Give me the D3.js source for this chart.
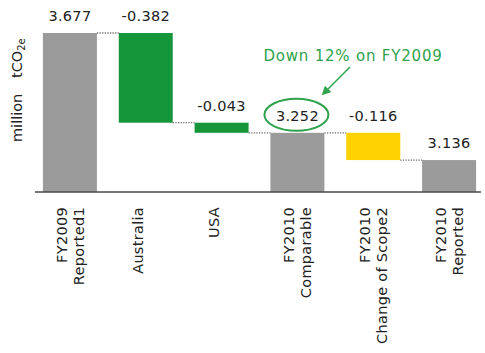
<!DOCTYPE html>
<html lang="en">
<head>
<meta charset="UTF-8">
<title>Waterfall</title>
<script src="https://cdn.jsdelivr.net/npm/d3@7"></script>
<style>
  body { margin: 0; background: #fff; }
  svg text { font-family: "DejaVu Sans", sans-serif; }
</style>
</head>
<body>
<div id="chart"></div>
<script>
// chart data
const categories = ["FY2009|Reported1", "Australia", "USA", "FY2010|Comparable", "FY2010|Change of Scope2", "FY2010|Reported"];
const values = [3.677, -0.382, -0.043, 3.252, -0.116, 3.136];
const kinds = ["total", "delta", "delta", "total", "delta", "total"];
const barColors = ["#9b9b9b", "#16963a", "#16963a", "#9b9b9b", "#ffd200", "#9b9b9b"];
const valueLabels = ["3.677", "-0.382", "-0.043", "3.252", "-0.116", "3.136"];
const yDomain = [3.0, 3.677];

const width = 485, height = 353;
const svg = d3.select("#chart").append("svg")
    .attr("width", width)
    .attr("height", height);

const x = d3.scaleBand().domain(categories).range([32, 487])
    .paddingInner(0.288).paddingOuter(0.144);
const y = d3.scaleLinear().domain(yDomain).range([192, 33]);

// running totals for the waterfall
let run = 0;
const bars = values.map(function(v, i) {
    let lo, hi, end;
    if (kinds[i] === "total") { lo = yDomain[0]; hi = v; end = v; }
    else { end = run + v; lo = Math.min(run, end); hi = Math.max(run, end); }
    run = end;
    return {cat: categories[i], lo: lo, hi: hi, end: end, color: barColors[i], label: valueLabels[i]};
});

// dotted connectors
svg.selectAll("line.conn")
    .data(bars.slice(0, -1))
    .join("line")
    .attr("class", "conn")
    .attr("x1", (d) => x(d.cat) + x.bandwidth())
    .attr("x2", (d, i) => x(categories[i + 1]))
    .attr("y1", (d) => y(d.end))
    .attr("y2", (d) => y(d.end))
    .attr("stroke", "#6f6f6f")
    .attr("stroke-width", 1.3)
    .attr("stroke-dasharray", "1.3,1.3");

svg.selectAll("rect.bar")
    .data(bars)
    .join("rect")
    .attr("class", "bar")
    .attr("x", (d) => x(d.cat))
    .attr("width", x.bandwidth())
    .attr("y", (d) => y(d.hi))
    .attr("height", (d) => y(d.lo) - y(d.hi))
    .attr("fill", (d) => d.color);

// baseline
svg.append("line")
    .attr("x1", 35).attr("x2", 481)
    .attr("y1", y(yDomain[0])).attr("y2", y(yDomain[0]))
    .attr("stroke", "#4a4a4a")
    .attr("stroke-width", 1.5);

// value labels
svg.selectAll("text.val")
    .data(bars)
    .join("text")
    .attr("class", "val")
    .attr("x", (d) => x(d.cat) + x.bandwidth() / 2)
    .attr("y", (d) => y(d.hi) - 12)
    .attr("text-anchor", "middle")
    .attr("font-size", 14.5)
    .attr("letter-spacing", 0.3)
    .attr("fill", "#222")
    .text((d) => d.label);

// category labels, rotated
const cat = svg.selectAll("text.cat")
    .data(categories)
    .join("text")
    .attr("class", "cat")
    .attr("font-size", 14.5)
    .attr("letter-spacing", 0.3)
    .attr("fill", "#222")
    .attr("text-anchor", "end")
    .attr("transform", (d) => "translate(" + (x(d) + x.bandwidth() / 2 - 8) + ",207) rotate(-90)");
cat.selectAll("tspan")
    .data((d) => d.split("|"))
    .join("tspan")
    .attr("x", 0)
    .attr("y", (d, i) => 5 + i * 17)
    .text((d) => d);

// y axis title
svg.append("text")
    .attr("transform", "translate(22,142) rotate(-90)")
    .attr("font-size", 14.5)
    .attr("fill", "#222")
    .text("million");
const yt = svg.append("text")
    .attr("transform", "translate(22,78) rotate(-90)")
    .attr("font-size", 14.5)
    .attr("fill", "#222");
yt.append("tspan").text("tCO");
yt.append("tspan").attr("font-size", 10).attr("dy", 3).text("2e");

// annotation
const comp = bars[3];
const cx = x(comp.cat) + x.bandwidth() / 2 - 1;
svg.append("ellipse")
    .attr("cx", cx).attr("cy", y(comp.hi) - 18)
    .attr("rx", 32).attr("ry", 16)
    .attr("fill", "none")
    .attr("stroke", "#2ea24c")
    .attr("stroke-width", 2);

svg.append("defs").append("marker")
    .attr("id", "arr")
    .attr("viewBox", "0 0 10 10")
    .attr("refX", 8).attr("refY", 5)
    .attr("markerWidth", 6).attr("markerHeight", 6)
    .attr("orient", "auto")
    .append("path")
    .attr("d", "M0,0L10,5L0,10Z")
    .attr("fill", "#2ea24c");

svg.append("line")
    .attr("x1", 350).attr("y1", 67)
    .attr("x2", 323).attr("y2", 94)
    .attr("stroke", "#2ea24c")
    .attr("stroke-width", 1.5)
    .attr("marker-end", "url(#arr)");

svg.append("text")
    .attr("x", 353).attr("y", 61)
    .attr("text-anchor", "middle")
    .attr("font-size", 15)
    .attr("letter-spacing", 0.8)
    .attr("fill", "#2ea24c")
    .text("Down 12% on FY2009");
</script>
</body>
</html>
